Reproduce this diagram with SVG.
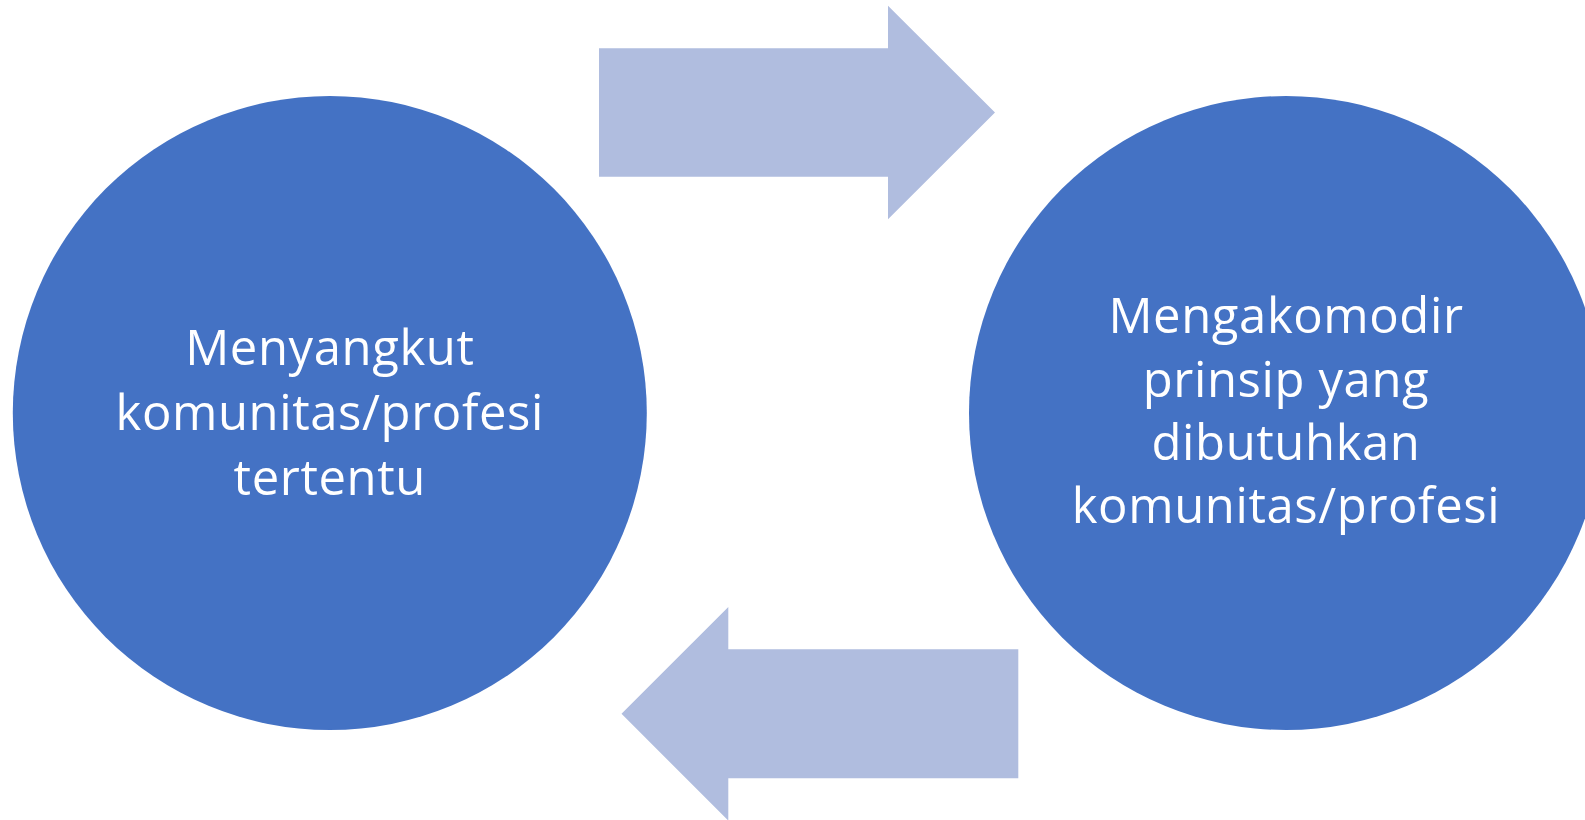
<svg xmlns="http://www.w3.org/2000/svg" width="1585" height="820" viewBox="0 0 1585 820">
  <style>
    .node { fill: #4472C4; }
    .arrow { fill: #B0BDDF; }
    .label { font-family: "Open Sans", "Liberation Sans", sans-serif; font-size: 49px; letter-spacing: 0.6px; fill: #FFFFFF; text-anchor: middle; }
  </style>
  <rect width="1585" height="820" fill="#FFFFFF"/>
  <g id="connectors">
    <polygon class="arrow" points="599,48.3 888,48.3 888,5.7 995,112.5 888,219.3 888,176.7 599,176.7"/>
    <polygon class="arrow" points="1018.3,649.3 728.3,649.3 728.3,607 621.5,713.8 728.3,820.6 728.3,778.3 1018.3,778.3"/>
  </g>
  <g id="node-left">
    <circle class="node" cx="329.8" cy="413" r="317"/>
    <text class="label" x="329.8" y="365">Menyangkut</text>
    <text class="label" x="329.8" y="430">komunitas/profesi</text>
    <text class="label" x="329.8" y="495">tertentu</text>
  </g>
  <g id="node-right">
    <circle class="node" cx="1286" cy="413" r="317"/>
    <text class="label" x="1286" y="333">Mengakomodir</text>
    <text class="label" x="1286" y="396.5">prinsip yang</text>
    <text class="label" x="1286" y="460">dibutuhkan</text>
    <text class="label" x="1286" y="523">komunitas/profesi</text>
  </g>
</svg>
